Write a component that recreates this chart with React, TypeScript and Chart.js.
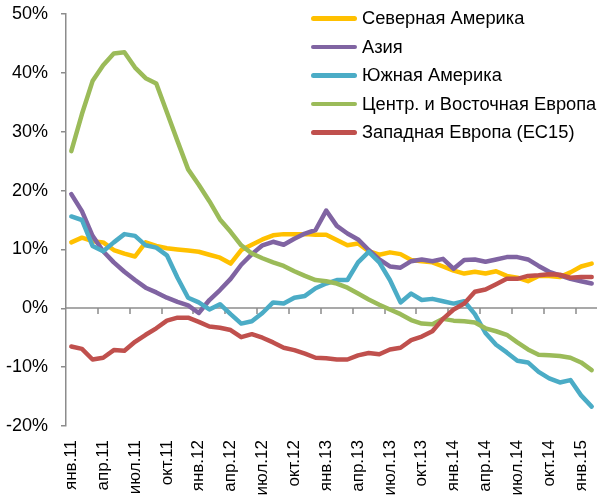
import React, { useEffect, useRef } from "react";
import { Chart, registerables } from "chart.js";

Chart.register(...registerables);

const categories = [
  "янв.11", "фев.11", "мар.11", "апр.11", "май.11", "июн.11", "июл.11", "авг.11", "сен.11", "окт.11", "ноя.11", "дек.11",
  "янв.12", "фев.12", "мар.12", "апр.12", "май.12", "июн.12", "июл.12", "авг.12", "сен.12", "окт.12", "ноя.12", "дек.12",
  "янв.13", "фев.13", "мар.13", "апр.13", "май.13", "июн.13", "июл.13", "авг.13", "сен.13", "окт.13", "ноя.13", "дек.13",
  "янв.14", "фев.14", "мар.14", "апр.14", "май.14", "июн.14", "июл.14", "авг.14", "сен.14", "окт.14", "ноя.14", "дек.14",
  "янв.15", "фев.15",
];

const northAmerica = [
  11.2, 12.0, 11.4, 11.2, 9.9, 9.3, 8.8, 11.2, 10.6, 10.2, 10.0, 9.8,
  9.6, 9.1, 8.6, 7.6, 9.9, 10.8, 11.7, 12.4, 12.6, 12.6, 12.6, 12.5,
  12.5, 11.6, 10.7, 11.0, 9.7, 9.1, 9.5, 9.2, 8.2, 8.0, 7.8, 7.1,
  6.4, 5.9, 6.2, 5.9, 6.3, 5.5, 5.2, 4.6, 5.5, 5.5, 5.3, 6.1,
  7.1, 7.6,
];

const asia = [
  19.4, 16.5, 12.3, 9.7, 7.8, 6.2, 4.8, 3.5, 2.7, 1.8, 1.1, 0.5,
  -0.8, 1.4, 3.1, 5.0, 7.4, 9.2, 10.7, 11.3, 10.8, 11.8, 12.7, 13.3,
  16.6, 14.0, 12.7, 11.7, 9.9, 8.3, 7.1, 6.9, 8.0, 8.3, 8.0, 8.4,
  6.7, 8.2, 8.3, 7.9, 8.3, 8.7, 8.7, 8.3, 7.2, 6.2, 5.6, 5.0,
  4.6, 4.2,
];

const southAmerica = [
  15.6, 15.0, 10.6, 9.7, 11.2, 12.6, 12.3, 10.7, 10.3, 9.0, 5.2, 1.8,
  1.0, -0.2, 0.7, -1.0, -2.6, -2.2, -0.8, 1.0, 0.8, 1.8, 2.1, 3.4,
  4.2, 4.8, 4.8, 7.8, 9.6, 7.8, 4.8, 1.0, 2.5, 1.4, 1.6, 1.2,
  0.8, 1.2, -1.0, -4.2, -6.2, -7.5, -8.9, -9.2, -10.8, -11.9, -12.6, -12.2,
  -14.8, -16.7,
];

const cee = [
  26.7, 33.0, 38.6, 41.3, 43.3, 43.5, 40.9, 39.1, 38.2, 33.3, 28.4, 23.6,
  21.0, 18.2, 15.1, 13.0, 10.7, 9.3, 8.5, 7.8, 7.2, 6.3, 5.5, 4.8,
  4.6, 4.2, 3.5, 2.5, 1.5, 0.6, -0.2, -1.0, -2.0, -2.6, -2.7, -1.8,
  -2.1, -2.2, -2.4, -3.4, -3.9, -4.5, -5.8, -7.0, -7.9, -8.0, -8.1, -8.4,
  -9.2, -10.5,
];

const westEurope = [
  -6.5, -6.9, -8.7, -8.4, -7.1, -7.2, -5.7, -4.5, -3.4, -2.1, -1.6, -1.6,
  -2.3, -3.1, -3.3, -3.7, -4.9, -4.4, -5.0, -5.8, -6.7, -7.1, -7.7, -8.4,
  -8.5, -8.7, -8.7, -8.0, -7.6, -7.8, -7.0, -6.7, -5.4, -4.8, -3.9, -1.8,
  -0.2, 0.8, 2.8, 3.2, 4.1, 5.0, 5.0, 5.5, 5.6, 5.8, 5.7, 5.2,
  5.3, 5.3,
];

const seriesNames = [
  "Северная Америка",
  "Азия",
  "Южная Америка",
  "Центр. и Восточная Европа",
  "Западная Европа (ЕС15)",
];
const seriesColors = ["#FFC000", "#8064A2", "#4BACC6", "#9BBB59", "#C0504D"];
const seriesData = [northAmerica, asia, southAmerica, cee, westEurope];

const yMin = -20;
const yMax = 50;
const yStep = 10;
const tickEvery = 3;

const FONT = "'Liberation Sans', Arial, sans-serif";
const AXIS_COLOR = "#8C8C8C";

const zeroAxisPlugin = {
  id: "zeroAxis",
  beforeDatasetsDraw(chart: any) {
    const { ctx, chartArea, scales } = chart;
    const x = scales.x;
    const y = scales.y;
    const y0 = Math.round(y.getPixelForValue(0));
    const half = (x.getPixelForValue(1) - x.getPixelForValue(0)) / 2;
    ctx.save();
    ctx.strokeStyle = AXIS_COLOR;
    ctx.lineWidth = 1.5;
    ctx.beginPath();
    ctx.moveTo(chartArea.left, y0);
    ctx.lineTo(chartArea.right, y0);
    ctx.stroke();
    ctx.beginPath();
    for (let i = tickEvery; i < categories.length; i += tickEvery) {
      const px = Math.round(x.getPixelForValue(i) - half);
      ctx.moveTo(px, y0);
      ctx.lineTo(px, y0 + 6);
    }
    ctx.stroke();
    ctx.restore();
  },
};

function App() {
  const canvasRef = useRef<HTMLCanvasElement | null>(null);

  useEffect(() => {
    const canvas = canvasRef.current;
    if (!canvas) return;
    const chart = new Chart(canvas, {
      type: "line",
      data: {
        labels: categories,
        datasets: seriesData.map((d, i) => ({
          label: seriesNames[i],
          data: d,
          borderColor: seriesColors[i],
          backgroundColor: seriesColors[i],
          borderWidth: 4.5,
          pointRadius: 0,
          tension: 0,
          fill: false,
          borderJoinStyle: "round" as const,
          borderCapStyle: "round" as const,
          order: seriesData.length - i,
        })),
      },
      options: {
        animation: false,
        responsive: false,
        maintainAspectRatio: false,
        layout: { padding: { top: 14, right: 4, left: 0, bottom: 0 } },
        plugins: {
          legend: { display: false },
          tooltip: { enabled: false },
        },
        scales: {
          x: {
            type: "category",
            offset: true,
            grid: { display: false, offset: true },
            border: { display: false },
            ticks: {
              autoSkip: false,
              minRotation: 90,
              maxRotation: 90,
              padding: 6,
              color: "#000",
              font: { family: FONT, size: 17 },
              callback: (_v: any, i: number) => (i % tickEvery === 0 ? categories[i] : ""),
            },
            afterFit: (s: any) => {
              s.height = 73;
              s.paddingLeft = 0;
              s.paddingRight = 0;
            },
          },
          y: {
            min: yMin,
            max: yMax,
            grid: {
              drawOnChartArea: false,
              drawTicks: true,
              tickLength: 5,
              color: AXIS_COLOR,
              lineWidth: 1.5,
            },
            border: { display: true, color: AXIS_COLOR, width: 1.5 },
            ticks: {
              stepSize: yStep,
              padding: 13,
              color: "#000",
              font: { family: FONT, size: 18 },
              callback: (v: any) => `${v}%`,
            },
            afterFit: (s: any) => {
              s.width = 66;
              s.paddingTop = 0;
              s.paddingBottom = 0;
            },
          },
        },
      },
      plugins: [zeroAxisPlugin],
    });
    return () => chart.destroy();
  }, []);

  return (
    <div style={{ position: "fixed", left: 0, top: 0, width: 601, height: 499, background: "#fff" }}>
      <canvas ref={canvasRef} width={601} height={499} style={{ width: 601, height: 499, display: "block" }} />
      <div style={{ position: "absolute", left: 311, top: 4, fontFamily: FONT, fontSize: 18.3, color: "#000" }}>
        {seriesNames.map((name, i) => (
          <div key={name} style={{ display: "flex", alignItems: "center", height: 28.5, whiteSpace: "nowrap" }}>
            <span
              style={{
                display: "inline-block",
                width: 46,
                height: 4.5,
                borderRadius: 3,
                background: seriesColors[i],
                marginRight: 5,
              }}
            />
            <span>{name}</span>
          </div>
        ))}
      </div>
    </div>
  );
}

export default App;
